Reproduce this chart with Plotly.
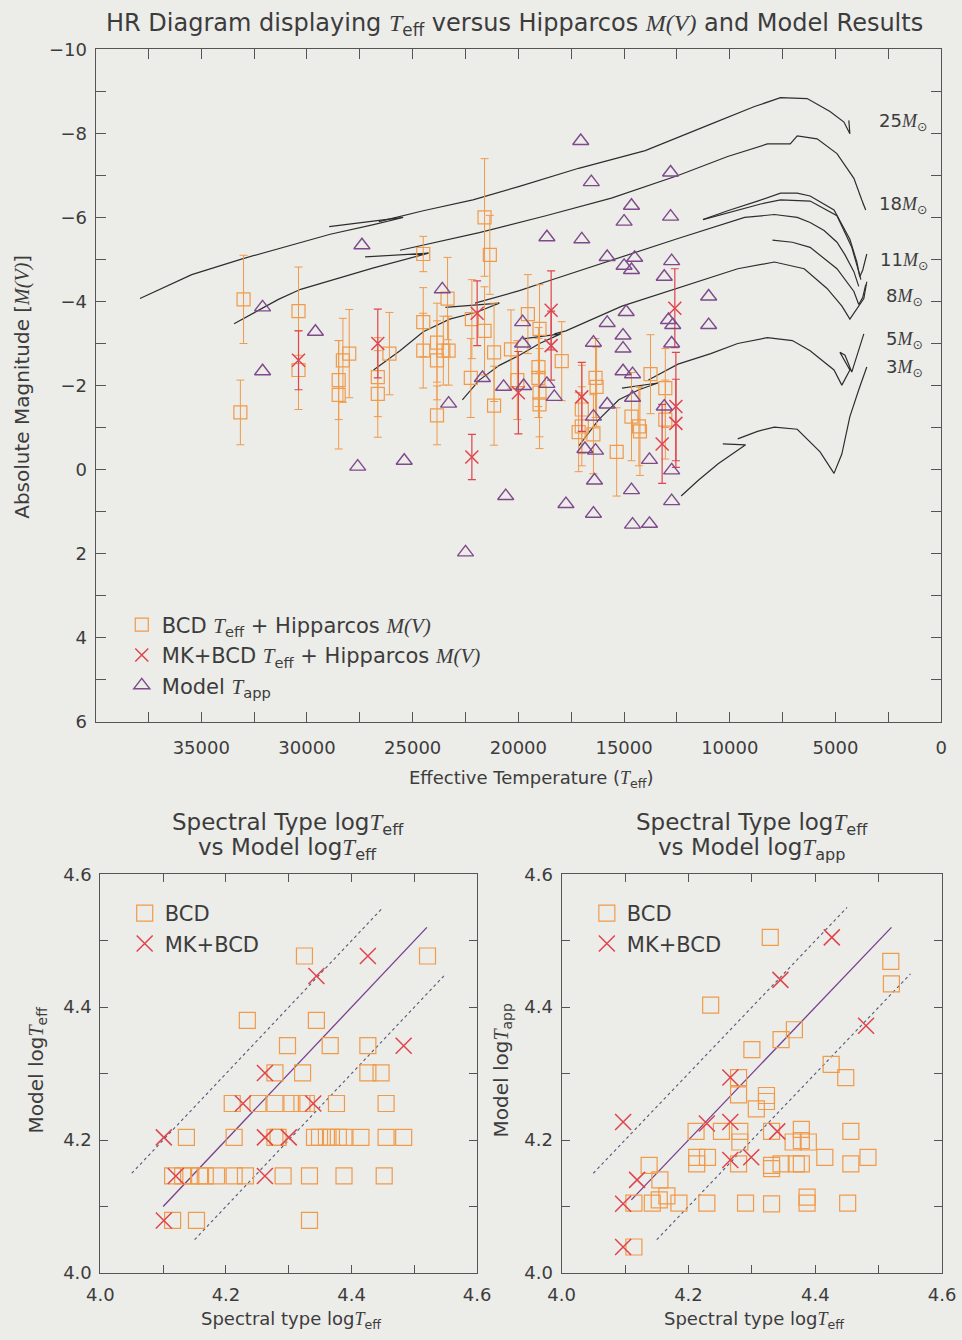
import plotly.graph_objects as go

# ---------------- DATA ----------------
# Top panel: BCD Teff + Hipparcos M(V)
bcd_teff = [33000, 33150, 30400, 30400, 28500, 28500, 28300, 28000, 26650, 26650,
            26100, 24500, 24500, 24500, 23850, 23850, 23850, 23550, 23300, 23350,
            22250, 22200, 21600, 21350, 21600, 21150, 21150, 20350, 20050, 19550,
            19000, 19050, 19050, 19000, 19000, 17950, 16350, 16300, 17000, 17000,
            17150, 16450, 15350, 14650, 14300, 14250, 13750, 13050, 13050]
bcd_mv = [-4.05, -1.36, -3.77, -2.37, -2.13, -1.78, -2.60, -2.76, -2.20, -1.80,
          -2.76, -5.13, -3.51, -2.83, -3.02, -2.60, -1.29, -2.83, -2.83, -4.07,
          -2.18, -3.58, -6.00, -5.11, -3.30, -2.79, -1.52, -2.86, -2.13, -3.70,
          -3.35, -2.44, -2.18, -1.83, -1.55, -2.58, -2.18, -1.97, -1.43, -1.03,
          -0.89, -0.84, -0.42, -1.26, -1.03, -0.91, -2.27, -1.94, -1.19]
bcd_err = [1.05, 0.77, 1.05, 0.94, 0.94, 1.29, 1.00, 1.05, 0.94, 1.03,
           0.98, 0.42, 0.82, 0.89, 0.94, 0.94, 0.70, 0.82, 0.82, 0.98,
           0.94, 0.94, 1.40, 0.94, 1.05, 1.17, 0.94, 0.94, 0.94, 0.94,
           1.05, 0.94, 0.94, 1.05, 1.05, 0.94, 0.94, 0.94, 1.05, 0.94,
           0.94, 0.94, 1.05, 1.05, 0.94, 1.05, 0.94, 0.94, 0.94]

# Top panel: MK+BCD Teff + Hipparcos M(V)
mk_teff = [30400, 26650, 21950, 22200, 20000, 18450, 18450, 17000, 12600, 12550, 12550, 13200]
mk_mv = [-2.60, -3.00, -3.72, -0.30, -1.83, -3.79, -2.95, -1.73, -3.84, -1.50, -1.10, -0.61]
mk_err = [0.70, 0.82, 0.77, 0.54, 0.98, 0.94, 0.82, 0.82, 0.94, 1.29, 1.05, 0.94]

# Top panel: Model T_app
model_teff = [32100, 32100, 29600, 27400, 23600, 23300, 27600, 25400, 21700, 20700,
              20600, 22500, 19800, 19800, 19750, 18650, 18300, 17050, 16550, 12800,
              14650, 15000, 12800, 18650, 17000, 15800, 14500, 15000, 14650, 12750,
              13100, 11000, 11000, 14900, 15800, 16450, 15050, 15050, 12900, 12700,
              12750, 15050, 14600, 15800, 14600, 16450, 16850, 16350, 16400, 14650,
              13800, 13100, 12750, 17750, 16450, 14600, 13800, 12750]
model_mv = [-3.86, -2.34, -3.28, -5.34, -4.29, -1.57, -0.07, -0.21, -2.18, -1.97,
            0.63, 1.97, -3.51, -3.00, -1.99, -2.04, -1.73, -7.82, -6.84, -7.07,
            -6.28, -5.90, -6.02, -5.53, -5.48, -5.06, -5.04, -4.85, -4.75, -4.96,
            -4.59, -4.12, -3.44, -3.75, -3.49, -3.02, -3.19, -2.88, -3.56, -3.44,
            -3.00, -2.34, -2.27, -1.55, -1.71, -1.26, -0.49, -0.45, 0.26, 0.49,
            -0.23, -1.50, 0.02, 0.82, 1.05, 1.31, 1.29, 0.75]

# Evolutionary tracks (Teff, M(V)); None separates pieces
track_masses = ["25", "18", "11", "8", "5", "3"]
track25_teff = [37900, 35450, 33100, 30750, 28900, 26850, 25450, 28950, None,
                26600, 24500, 22150, 19950, 17150, 14000, 10900, 8830, 7600, 6340,
                5260, 4600, 4320, 4370]
track25_mv = [-4.07, -4.64, -5.01, -5.34, -5.60, -5.83, -6.00, -5.78, None,
              -5.90, -6.16, -6.42, -6.74, -7.17, -7.59, -8.22, -8.64, -8.85, -8.83,
              -8.52, -8.27, -7.99, -8.31]
track18_teff = [33450, 31350, 30300, 29200, 26850, 24250, 27250, None,
                25600, 21850, 18700, 15600, 12450, 10100, 8220, 7140, 6810, 5870,
                4930, 4130, 3760, 3570, 3710]
track18_mv = [-3.47, -4.05, -4.29, -4.45, -4.80, -5.15, -5.06, None,
              -5.22, -5.64, -6.04, -6.46, -7.00, -7.45, -7.75, -7.75, -7.94, -7.87,
              -7.52, -6.93, -6.42, -6.18, -6.35]
track11_teff = [26850, 25600, 24500, 23250, 21950, 20900, 23450, None,
                22050, 19950, 18700, 15600, 12450, 9300, 7890, 6810, 6200, 5540,
                4930, 4550, 4130, 3900, None,
                11270, 10100, 8690, 7600, 6810, 6200, 5070, 4320, 3990, 3850, 3710, 3520, None,
                11270, 8540, 7600, 6200, 4930, 4230, 3900, 3800]
track11_mv = [-2.37, -2.83, -3.28, -3.58, -3.75, -3.96, -3.86, None,
              -3.96, -4.26, -4.47, -4.99, -5.50, -6.00, -6.07, -6.00, -5.88, -5.69,
              -5.41, -5.11, -4.71, -4.36, None,
              -5.95, -6.16, -6.39, -6.58, -6.58, -6.51, -6.18, -5.48, -4.94, -4.59, -4.75, -5.13, None,
              -5.95, -6.32, -6.42, -6.39, -6.04, -5.29, -4.71, -4.52]
track8_teff = [22650, 21850, 20900, 19950, 19000, 18000, 19800, None,
               18300, 17750, 15100, 11500, 9625, 7890, 6480, 5400, 4695, 4320,
               3900, 3660, 3520, None,
               7980, 7040, 6200, 4930, 4130, 3900, 3710, 3570]
track8_mv = [-1.66, -2.13, -2.48, -2.72, -3.00, -3.23, -3.11, None,
             -3.23, -3.30, -3.89, -4.47, -4.78, -4.94, -4.78, -4.31, -3.89, -3.58,
             -3.89, -4.07, -4.47, None,
             -5.46, -5.41, -5.29, -4.78, -4.24, -3.93, -4.10, -4.40]
track5_teff = [17150, 16200, 15250, 14300, 13400, 15100, None,
               13850, 12450, 10900, 9625, 8220, 7040, 6200, 5070, 4700, 4320,
               4790, 4550, 4230, 3990, 3660]
track5_mv = [-0.56, -1.19, -1.66, -1.90, -2.06, -1.94, None,
             -2.13, -2.51, -2.76, -3.00, -3.14, -3.07, -2.83, -2.37, -2.01, -2.37,
             -2.79, -2.72, -2.32, -2.72, -3.23]
track3_teff = [12300, 11500, 10550, 9250, 10330, None,
               9625, 8690, 7890, 6810, 5730, 5070, 4700, 4320, 3900, 3520]
track3_mv = [0.63, 0.26, -0.14, -0.59, -0.61, None,
             -0.73, -0.91, -1.01, -0.96, -0.42, 0.09, -0.37, -1.26, -1.90, -2.44]

# Bottom-left: spectral type logTeff vs model logTeff
bl_bcd_spec = [4.325, 4.521,
               4.234, 4.344,
               4.298, 4.366, 4.426,
               4.278, 4.322, 4.426, 4.447,
               4.210, 4.251, 4.278, 4.305, 4.321, 4.328, 4.376, 4.455,
               4.137, 4.213, 4.278, 4.283, 4.341, 4.349, 4.360, 4.368, 4.379, 4.388, 4.415, 4.455, 4.483,
               4.115, 4.131, 4.144, 4.158, 4.167, 4.185, 4.213, 4.231, 4.291, 4.333, 4.388, 4.452,
               4.115, 4.153, 4.333]
bl_bcd_model = [4.477, 4.477,
                4.380, 4.380,
                4.342, 4.342, 4.342,
                4.301, 4.301, 4.301, 4.301,
                4.255, 4.255, 4.255, 4.255, 4.255, 4.255, 4.255, 4.255,
                4.204, 4.204, 4.204, 4.204, 4.204, 4.204, 4.204, 4.204, 4.204, 4.204, 4.204, 4.204, 4.204,
                4.146, 4.146, 4.146, 4.146, 4.146, 4.146, 4.146, 4.146, 4.146, 4.146, 4.146, 4.146,
                4.079, 4.079, 4.079]
bl_mk_spec = [4.426, 4.344, 4.483, 4.262, 4.227, 4.339, 4.101, 4.262, 4.300, 4.120, 4.262, 4.101]
bl_mk_model = [4.477, 4.447, 4.342, 4.301, 4.255, 4.255, 4.204, 4.204, 4.204, 4.146, 4.146, 4.079]

# Bottom-right: spectral type logTeff vs model logTapp
br_bcd_spec = [4.329, 4.519, 4.520, 4.235, 4.367, 4.346, 4.300, 4.425, 4.448, 4.279,
               4.323, 4.323, 4.279, 4.307, 4.212, 4.252, 4.281, 4.281, 4.331, 4.378,
               4.378, 4.365, 4.389, 4.456, 4.213, 4.230, 4.213, 4.279, 4.331, 4.346,
               4.331, 4.370, 4.378, 4.415, 4.456, 4.483, 4.138, 4.155, 4.166, 4.154,
               4.143, 4.114, 4.185, 4.229, 4.290, 4.331, 4.387, 4.387, 4.451, 4.114]
br_bcd_model = [4.505, 4.469, 4.435, 4.403, 4.366, 4.351, 4.336, 4.314, 4.294, 4.294,
                4.267, 4.258, 4.268, 4.247, 4.213, 4.213, 4.213, 4.197, 4.213, 4.216,
                4.199, 4.197, 4.197, 4.213, 4.174, 4.174, 4.164, 4.164, 4.162, 4.164,
                4.157, 4.164, 4.164, 4.174, 4.164, 4.174, 4.162, 4.140, 4.116, 4.110,
                4.105, 4.105, 4.105, 4.105, 4.105, 4.104, 4.114, 4.105, 4.105, 4.039]
br_mk_spec = [4.426, 4.345, 4.480, 4.266, 4.097, 4.229, 4.266, 4.340, 4.266, 4.299, 4.119, 4.097, 4.097]
br_mk_model = [4.505, 4.441, 4.372, 4.294, 4.227, 4.225, 4.227, 4.213, 4.170, 4.174, 4.140, 4.104, 4.039]

# Reference lines (1:1 and +/-0.1 dex)
bl_fit_x = [4.10, 4.52]
br_fit_x = [4.11, 4.52]
upper_x = [4.05, 4.45]
upper_y = [4.15, 4.55]
lower_x = [4.15, 4.55]
lower_y = [4.05, 4.45]

# Tick labels
top_x_ticks = [0, 2500, 5000, 7500, 10000, 12500, 15000, 17500, 20000, 22500,
               25000, 27500, 30000, 32500, 35000, 37500, 40000]
top_x_labels = ["0", "", "5000", "", "10000", "", "15000", "", "20000", "",
                "25000", "", "30000", "", "35000", "", ""]
top_y_ticks = list(range(-10, 7))
top_y_labels = ["\u221210", "", "\u22128", "", "\u22126", "", "\u22124", "", "\u22122", "",
                "0", "", "2", "", "4", "", "6"]
log_ticks = [4.0, 4.1, 4.2, 4.3, 4.4, 4.5, 4.6]
log_labels = ["4.0", "", "4.2", "", "4.4", "", "4.6"]

# ---------------- STYLE ----------------
W, H = 962, 1340
BG = "#ecece9"
ORANGE = "#f09a4a"
RED = "#e0444c"
PURPLE = "#7e4a8c"
TRACK = "#2e2e2e"
AXC = "#555555"
TXT = "#3c3c3c"
SANS = "DejaVu Sans, Verdana, sans-serif"


def fx(p):
    return p / W


def fy(p):
    return 1 - p / H


def it(s):
    return '<span style="font-family:Liberation Serif;font-style:italic">' + s + '</span>'


TEFF = it("T") + "<sub>eff</sub>"
TAPP = it("T") + "<sub>app</sub>"
MV = it("M(V)")

fig = go.Figure()

tracks = [(track25_teff, track25_mv), (track18_teff, track18_mv), (track11_teff, track11_mv),
          (track8_teff, track8_mv), (track5_teff, track5_mv), (track3_teff, track3_mv)]
for (tx, ty), m in zip(tracks, track_masses):
    fig.add_trace(go.Scatter(x=tx, y=ty, mode="lines", line=dict(color=TRACK, width=1.2),
                             showlegend=False, hoverinfo="skip", name=m + " Msun",
                             xaxis="x", yaxis="y", connectgaps=False))

fig.add_trace(go.Scatter(
    x=bcd_teff, y=bcd_mv, mode="markers", name="BCD " + TEFF + " + Hipparcos " + MV,
    marker=dict(symbol="square-open", size=13, color=ORANGE, line=dict(color=ORANGE, width=1.2)),
    error_y=dict(type="data", array=bcd_err, color=ORANGE, thickness=1, width=4),
    xaxis="x", yaxis="y", legend="legend"))
fig.add_trace(go.Scatter(
    x=mk_teff, y=mk_mv, mode="markers", name="MK+BCD " + TEFF + " + Hipparcos " + MV,
    marker=dict(symbol="x-thin-open", size=13, color=RED, line=dict(color=RED, width=1.5)),
    error_y=dict(type="data", array=mk_err, color=RED, thickness=1.2, width=4),
    xaxis="x", yaxis="y", legend="legend"))
fig.add_trace(go.Scatter(
    x=model_teff, y=model_mv, mode="markers", name="Model " + TAPP,
    marker=dict(symbol="triangle-up-open", size=14, color=PURPLE, line=dict(color=PURPLE, width=1.4)),
    xaxis="x", yaxis="y", legend="legend"))

for xa, ya, fitx, bspec, bmod, mspec, mmod, lg in [
        ("x2", "y2", bl_fit_x, bl_bcd_spec, bl_bcd_model, bl_mk_spec, bl_mk_model, "legend2"),
        ("x3", "y3", br_fit_x, br_bcd_spec, br_bcd_model, br_mk_spec, br_mk_model, "legend3")]:
    fig.add_trace(go.Scatter(x=fitx, y=fitx, mode="lines", line=dict(color="#7a3f8e", width=1.3),
                             showlegend=False, xaxis=xa, yaxis=ya))
    fig.add_trace(go.Scatter(x=upper_x, y=upper_y, mode="lines",
                             line=dict(color="#55577a", width=1.1, dash="dot"),
                             showlegend=False, xaxis=xa, yaxis=ya))
    fig.add_trace(go.Scatter(x=lower_x, y=lower_y, mode="lines",
                             line=dict(color="#55577a", width=1.1, dash="dot"),
                             showlegend=False, xaxis=xa, yaxis=ya))
    fig.add_trace(go.Scatter(x=bspec, y=bmod, mode="markers", name="BCD",
                             marker=dict(symbol="square-open", size=16, color=ORANGE,
                                         line=dict(color=ORANGE, width=1.2)),
                             xaxis=xa, yaxis=ya, legend=lg))
    fig.add_trace(go.Scatter(x=mspec, y=mmod, mode="markers", name="MK+BCD",
                             marker=dict(symbol="x-thin-open", size=16, color=RED,
                                         line=dict(color=RED, width=1.5)),
                             xaxis=xa, yaxis=ya, legend=lg))


def axis(domain, rng, tv, tt, tlen, anchor, standoff=4):
    return dict(domain=domain, range=rng, tickmode="array", tickvals=tv, ticktext=tt,
                ticks="inside", ticklen=tlen, tickwidth=1, tickcolor=AXC,
                showline=True, linecolor=AXC, linewidth=1, mirror="ticks",
                showgrid=False, zeroline=False, anchor=anchor,
                ticklabelstandoff=standoff,
                tickfont=dict(family=SANS, size=18, color=TXT))


yd_top = [fy(722), fy(39)]
yd_bot = [fy(1282), fy(877)]
fig.update_layout(
    width=W, height=H, margin=dict(l=0, r=0, t=0, b=0),
    paper_bgcolor=BG, plot_bgcolor=BG, font=dict(family=SANS, color=TXT),
    xaxis=axis([fx(84), fx(955)], [40000, 0], top_x_ticks, top_x_labels, 10, "y", 10),
    yaxis=axis(yd_top, [6, -10], top_y_ticks, top_y_labels, 10, "x", 4),
    xaxis2=axis([fx(89), fx(477)], [4.0, 4.6], log_ticks, log_labels, 8, "y2", 5),
    yaxis2=axis(yd_bot, [4.0, 4.6], log_ticks, log_labels, 8, "x2", 4),
    xaxis3=axis([fx(564), fx(956)], [4.0, 4.6], log_ticks, log_labels, 8, "y3", 5),
    yaxis3=axis(yd_bot, [4.0, 4.6], log_ticks, log_labels, 8, "x3", 4),
    legend=dict(x=fx(111), y=fy(603), xanchor="left", yanchor="top", bgcolor="rgba(0,0,0,0)",
                font=dict(family=SANS, size=21, color=TXT), itemwidth=30, tracegroupgap=0),
    legend2=dict(x=fx(114), y=fy(896), xanchor="left", yanchor="top", bgcolor="rgba(0,0,0,0)",
                 font=dict(family=SANS, size=21, color=TXT), itemwidth=30),
    legend3=dict(x=fx(590), y=fy(896), xanchor="left", yanchor="top", bgcolor="rgba(0,0,0,0)",
                 font=dict(family=SANS, size=21, color=TXT), itemwidth=30),
)

ann = []


def add_text(x, y, text, size=20, angle=0, xanchor="center"):
    ann.append(dict(x=fx(x), y=fy(y), xref="paper", yref="paper", text=text, showarrow=False,
                    xanchor=xanchor, yanchor="middle", textangle=angle,
                    font=dict(family=SANS, size=size, color=TXT)))


add_text(515, 14, "HR Diagram displaying " + TEFF + " versus Hipparcos " + MV + " and Model Results", 24)
add_text(8, 382, "Absolute Magnitude [" + MV + "]", 20, -90)
add_text(533, 780, "Effective Temperature (" + TEFF + ")", 18)
add_text(282, 826, "Spectral Type log" + TEFF, 23)
add_text(282, 851, "vs Model log" + TEFF, 23)
add_text(760, 826, "Spectral Type log" + TEFF, 23)
add_text(760, 851, "vs Model log" + TAPP, 23)
add_text(24, 1076, "Model log" + TEFF, 20, -90)
add_text(503, 1076, "Model log" + TAPP, 20, -90)
add_text(285, 1330, "Spectral type log" + TEFF, 18)
add_text(762, 1330, "Spectral type log" + TEFF, 18)

label_y = [113, 197, 254, 291, 334, 363]
label_x = [889, 889, 890, 896, 896, 896]
for m, lx, ly in zip(track_masses, label_x, label_y):
    add_text(lx, ly, m + it("M") + "<sub>\u2299</sub>", 18, 0, "left")

fig.update_layout(annotations=ann)
fig.write_html("out.html")
